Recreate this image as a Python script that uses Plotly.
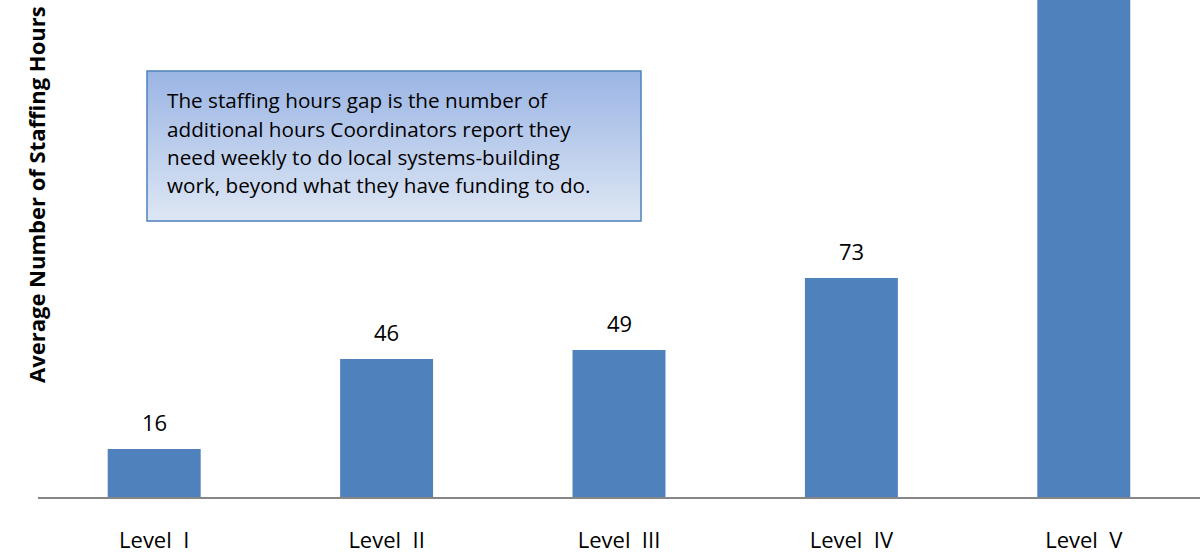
import plotly.graph_objects as go

# Average weekly staffing-hours gap by coordinator level
categories = ["Level  I", "Level  II", "Level  III", "Level  IV", "Level  V"]
gap_hours = [16, 46, 49, 73, 180]
axis_title = "Average Number of Staffing Hours"
note_lines = [
    "The staffing hours gap is the number of",
    "additional hours Coordinators report they",
    "need weekly to do local systems-building",
    "work, beyond what they have funding to do.",
]

BAR_COLOR = "#4f81bd"
FONT = "Open Sans"

W, H = 1200, 554
PLOT_L, PLOT_R, PLOT_T, PLOT_B = 38, 1200, 0, 497


def px_x(x):
    """Figure pixel column -> paper x (paper spans the plot area)."""
    return (x - PLOT_L) / (PLOT_R - PLOT_L)


def px_y(y):
    """Figure pixel row -> paper y."""
    return 1 - (y - PLOT_T) / (PLOT_B - PLOT_T)


fig = go.Figure()
fig.add_trace(go.Bar(
    x=categories,
    y=gap_hours,
    width=0.4,
    marker=dict(color=BAR_COLOR, line=dict(width=0)),
    hoverinfo="x+y",
))

annotations = []
# Value labels above each bar (off-range ones are not drawn)
for cat, val in zip(categories, gap_hours):
    annotations.append(dict(
        x=cat, y=val, xref="x", yref="y",
        text=str(val), showarrow=False,
        yanchor="bottom", yshift=10,
        font=dict(family=FONT, size=22, color="#000000"),
    ))

# Rotated axis title
annotations.append(dict(
    x=px_x(19), y=px_y(195), xref="paper", yref="paper",
    text=f"<b>{axis_title}</b>", textangle=-90, showarrow=False,
    font=dict(family=FONT, size=22, color="#000000"),
))

# Explanatory note box: vertical gradient built from thin strips
box_x0, box_x1, box_y0, box_y1 = 147, 641, 71, 221
shapes = []
n_strips = 50
top_rgb = (155, 181, 228)
bot_rgb = (221, 230, 244)
for i in range(n_strips):
    t = i / (n_strips - 1)
    r = round(top_rgb[0] + (bot_rgb[0] - top_rgb[0]) * t)
    g = round(top_rgb[1] + (bot_rgb[1] - top_rgb[1]) * t)
    b = round(top_rgb[2] + (bot_rgb[2] - top_rgb[2]) * t)
    sy0 = box_y0 + (box_y1 - box_y0) * i / n_strips
    sy1 = box_y0 + (box_y1 - box_y0) * (i + 1) / n_strips + 0.6
    shapes.append(dict(
        type="rect", xref="paper", yref="paper", layer="above",
        x0=px_x(box_x0), x1=px_x(box_x1),
        y0=px_y(sy1), y1=px_y(sy0),
        fillcolor=f"rgb({r},{g},{b})", line=dict(width=0),
    ))
shapes.append(dict(
    type="rect", xref="paper", yref="paper", layer="above",
    x0=px_x(box_x0), x1=px_x(box_x1),
    y0=px_y(box_y1), y1=px_y(box_y0),
    fillcolor="rgba(0,0,0,0)", line=dict(color="#4f81bd", width=1.5),
))

# Note text, one annotation per line for Word-like line spacing
line_centers = [100, 128.5, 157, 185.5]
for line, cy in zip(note_lines, line_centers):
    annotations.append(dict(
        x=px_x(165), y=px_y(cy), xref="paper", yref="paper",
        xanchor="left", yanchor="middle", align="left",
        text=line, showarrow=False,
        font=dict(family=FONT, size=20.7, color="#000000"),
    ))

fig.update_layout(
    width=W, height=H,
    margin=dict(l=PLOT_L, r=W - PLOT_R, t=PLOT_T, b=H - PLOT_B, pad=0),
    paper_bgcolor="#ffffff",
    plot_bgcolor="#ffffff",
    showlegend=False,
    bargap=0.6,
    shapes=shapes,
    annotations=annotations,
    xaxis=dict(
        showline=True, linecolor="#868686", linewidth=2,
        ticks="", showgrid=False, zeroline=False,
        tickfont=dict(family=FONT, size=22, color="#000000"),
        ticklabelstandoff=23,
    ),
    yaxis=dict(
        range=[0, 497 / 3.0], showticklabels=False, showgrid=False,
        zeroline=False, showline=False, ticks="",
    ),
)

fig.write_html("out.html")
